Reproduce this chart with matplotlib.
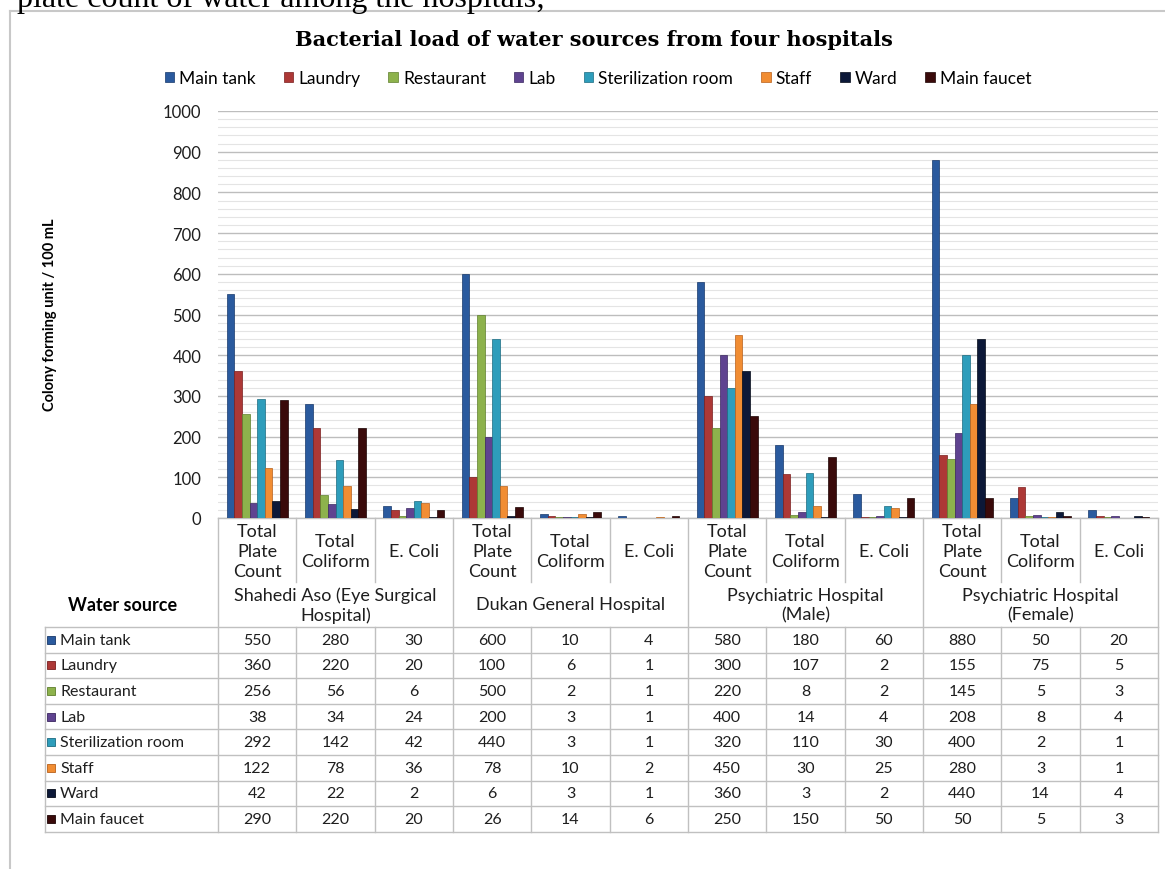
import numpy as np
import matplotlib.pyplot as plt

plt.rcParams['font.family'] = ['Lato', 'DejaVu Sans']

W, H = 1165, 870

# =========================
# DATA
# =========================
sources = ["Main tank", "Laundry", "Restaurant", "Lab",
           "Sterilization room", "Staff", "Ward", "Main faucet"]
tests = ["Total\nPlate\nCount", "Total\nColiform", "E. Coli"]
hospitals = ["Shahedi Aso (Eye Surgical\nHospital)", "Dukan General Hospital",
             "Psychiatric Hospital\n(Male)", "Psychiatric Hospital\n(Female)"]

main_tank   = [550, 280, 30, 600, 10, 4, 580, 180, 60, 880, 50, 20]
laundry     = [360, 220, 20, 100, 6, 1, 300, 107, 2, 155, 75, 5]
restaurant  = [256, 56, 6, 500, 2, 1, 220, 8, 2, 145, 5, 3]
lab         = [38, 34, 24, 200, 3, 1, 400, 14, 4, 208, 8, 4]
sterilize   = [292, 142, 42, 440, 3, 1, 320, 110, 30, 400, 2, 1]
staff       = [122, 78, 36, 78, 10, 2, 450, 30, 25, 280, 3, 1]
ward        = [42, 22, 2, 6, 3, 1, 360, 3, 2, 440, 14, 4]
main_faucet = [290, 220, 20, 26, 14, 6, 250, 150, 50, 50, 5, 3]

series = [main_tank, laundry, restaurant, lab, sterilize, staff, ward, main_faucet]

colors = ["#2A5A9E", "#AD3836", "#8DB24C", "#5F4390",
          "#2E9DBB", "#F18D33", "#0C1838", "#3A0A0A"]
edges = ["#17386A", "#7A1E1E", "#5E7E2C", "#3B2660",
         "#1A6A80", "#B8601A", "#040A18", "#1C0303"]

# =========================
# LAYOUT (pixels)
# =========================
L, R = 218, 1158          # plot area left/right
Y0, Y1 = 519, 112         # y=0 and y=1000
SUB_BOTTOM = 583
TAB_TOP = 628
ROW_H = 25.6
TAB_LEFT = 45
GRID = "#C0C0C0"
TXT = "#1E1E1E"

fig = plt.figure(figsize=(W / 100, H / 100), dpi=100)

over = fig.add_axes([0, 0, 1, 1])
over.set_xlim(0, W)
over.set_ylim(H, 0)
over.axis("off")

ax = fig.add_axes([L / W, 1 - Y0 / H, (R - L) / W, (Y0 - Y1) / H])
ax.patch.set_alpha(0)

n_groups = len(main_tank)
x = np.arange(n_groups)
bw = 0.78 / len(series)

for i, (name, vals) in enumerate(zip(sources, series)):
    ax.bar(x + (i - 3.5) * bw, vals, bw, color=colors[i],
           edgecolor=edges[i], linewidth=0.5, label=name, zorder=3)

ax.set_xlim(-0.5, n_groups - 0.5)
ax.set_ylim(0, 1000)
ax.set_yticks(np.arange(0, 1001, 100))
ax.set_yticks(np.arange(0, 1001, 20), minor=True)
ax.grid(which="major", axis="y", color="#BDBDBD", lw=1.0, zorder=0)
ax.grid(which="minor", axis="y", color="#E4E4E4", lw=0.8, zorder=0)
ax.set_xticks([])
ax.tick_params(axis="y", which="both", length=0, pad=12, labelsize=12,
               labelcolor=TXT)
for s in ax.spines.values():
    s.set_visible(False)

# y label
over.text(50, 315, "Colony forming unit / 100 mL", rotation=90, ha="center",
          va="center", fontsize=10.5, fontweight="bold")

# title + caption
over.text(594, 40, "Bacterial load of water sources from four hospitals",
          ha="center", va="center", fontsize=15, fontweight="bold",
          family="DejaVu Serif")
over.text(545, 7, "plate count of water among the hospitals;", ha="right",
          va="baseline", fontsize=23, family="Liberation Serif")

# chart border
over.plot([10, 10], [12, H], color="#C8C8C8", lw=1.5)
over.plot([10, W], [12, 12], color="#C8C8C8", lw=1.5)

# legend
handles, labels = ax.get_legend_handles_labels()
fig.legend(handles, labels, loc="center", bbox_to_anchor=(598 / W, 1 - 79 / H),
           ncol=8, frameon=False, fontsize=12.5, handlelength=0.55,
           handleheight=0.55, handletextpad=0.3, columnspacing=1.6)

# =========================
# DATA TABLE
# =========================
col_w = (R - L) / n_groups
cols = [L + k * col_w for k in range(n_groups + 1)]
tab_bottom = TAB_TOP + ROW_H * len(sources)

over.plot([L, R], [Y0, Y0], color=GRID, lw=1)
for k, cx in enumerate(cols):
    if k % 3 == 0:
        over.plot([cx, cx], [Y0, tab_bottom], color=GRID, lw=1)
    else:
        over.plot([cx, cx], [Y0, SUB_BOTTOM], color=GRID, lw=1)
        over.plot([cx, cx], [TAB_TOP, tab_bottom], color=GRID, lw=1)
over.plot([TAB_LEFT, TAB_LEFT], [TAB_TOP, tab_bottom], color=GRID, lw=1)
for r in range(len(sources) + 1):
    yy = TAB_TOP + r * ROW_H
    over.plot([TAB_LEFT, R], [yy, yy], color=GRID, lw=1)

for k in range(n_groups):
    over.text((cols[k] + cols[k + 1]) / 2, (Y0 + SUB_BOTTOM) / 2 + 1,
              tests[k % 3], ha="center", va="center", fontsize=13,
              linespacing=1.3, color=TXT)
for h, name in enumerate(hospitals):
    over.text((cols[3 * h] + cols[3 * h + 3]) / 2, (SUB_BOTTOM + TAB_TOP) / 2,
              name, ha="center", va="center", fontsize=13, linespacing=1.25,
              color=TXT)
over.text(123, (SUB_BOTTOM + TAB_TOP) / 2, "Water source", ha="center",
          va="center", fontsize=13, fontweight="bold")

for r, (name, vals) in enumerate(zip(sources, series)):
    cy = TAB_TOP + (r + 0.5) * ROW_H
    over.add_patch(plt.Rectangle((47, cy - 4), 8, 8, facecolor=colors[r],
                                 edgecolor=edges[r], lw=0.6))
    over.text(60, cy, name, ha="left", va="center", fontsize=11.5, color=TXT)
    for k, v in enumerate(vals):
        over.text((cols[k] + cols[k + 1]) / 2, cy, str(v), ha="center",
                  va="center", fontsize=11.5, color=TXT)

fig.savefig("out.png", dpi=100)
